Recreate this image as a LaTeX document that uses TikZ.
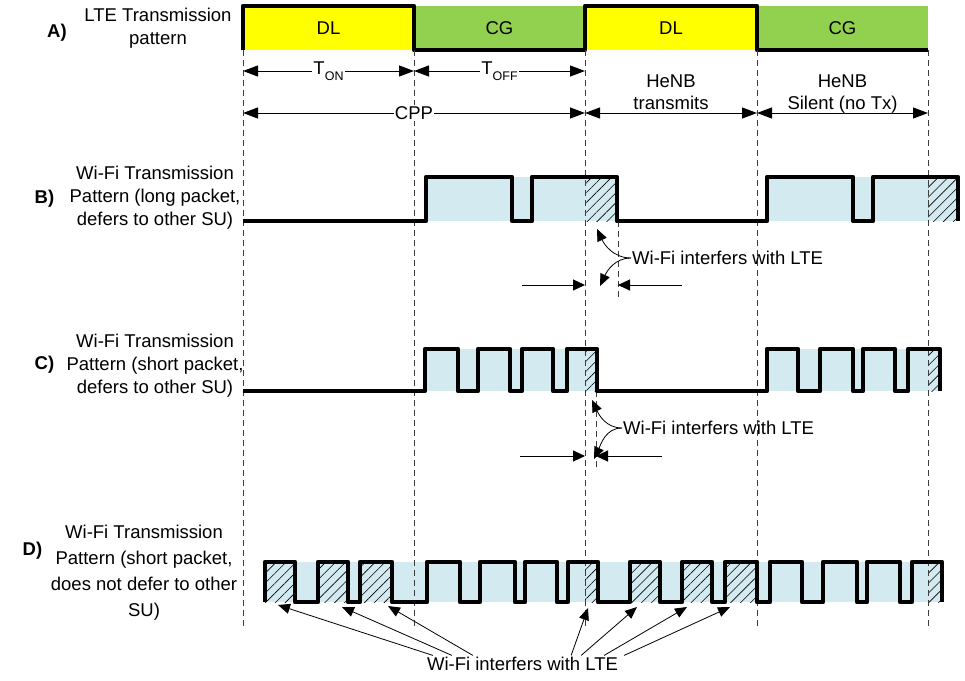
\documentclass[tikz,border=0pt]{standalone}
\usepackage{fontspec}
\setmainfont{Liberation Sans}
\usepackage{xcolor}
\definecolor{dlyellow}{RGB}{255,255,0}
\definecolor{cggreen}{RGB}{146,208,80}
\definecolor{wifiblue}{RGB}{210,234,240}
\definecolor{gridgray}{RGB}{60,60,60}
\usepackage{tikz}
\usetikzlibrary{arrows.meta,patterns.meta,positioning}
\tikzset{
	lbl/.style    = {inner sep=1pt,align=center,
		font=\fontsize{18.5}{23}\selectfont},
	tag/.style    = {inner sep=1pt,font=\fontsize{18.5}{23}\selectfont\bfseries},
	dlbox/.style  = {rectangle,fill=dlyellow,minimum width=171pt,
		minimum height=44pt,inner sep=0pt,outer sep=0pt,
		font=\fontsize{18.5}{23}\selectfont},
	cgbox/.style  = {dlbox,fill=cggreen},
	wave/.style   = {line width=4.6pt,line join=round},
	band/.style   = {fill=wifiblue},
	hatch/.style  = {pattern={Lines[angle=45,distance=7pt,line width=0.6pt]}},
	vline/.style  = {gridgray,line width=0.8pt,dash pattern=on 6pt off 4pt},
	dimarr/.style = {{Triangle[length=15pt,width=11pt]}-{Triangle[length=15pt,width=11pt]},line width=1pt},
	arr/.style    = {-{Triangle[length=12pt,width=10pt]},line width=0.8pt},
	barr/.style   = {-{Triangle[length=12pt,width=11pt]},line width=1pt},
}
\newcommand{\lowsub}[1]{\raisebox{-0.3em}{\fontsize{12.5}{12}\selectfont #1}}

\begin{document}
\begin{tikzpicture}[x=1pt,y=-1pt]
			\useasboundingbox (0,0) rectangle (965,680);
			
			%% A) LTE pattern
			\node (dl1) [dlbox] at (328.5,28) {DL};
			\node (cg1) [cgbox,right=0pt of dl1] {CG};
			\node (dl2) [dlbox,minimum width=172pt,right=0pt of cg1] {DL};
			\node (cg2) [cgbox,right=0pt of dl2] {CG};
			\draw[wave] (dl1.south west) -- (dl1.north west) -- (dl1.north east)
			-- (dl1.south east) -- (dl2.south west) -- (dl2.north west)
			-- (dl2.north east) -- (dl2.south east) -- (cg2.south east);
			
			\node (labA) [lbl] at (158,28) {LTE Transmission\\pattern};
			\node (tagA) [tag] at (57,33) {A)};
			
			%% Wi-Fi fills and hatching
			\fill[band] (426,177) rectangle (617,221);
			\fill[band] (767,177) rectangle (958,221);
			\fill[band] (425,349) rectangle (597,391);
			\fill[band] (767,349) rectangle (940,391);
			\fill[band] (265,562) rectangle (942,602);
			
			\fill[hatch] (585,177) rectangle (617,221);
			\fill[hatch] (928,177) rectangle (958,221);
			\fill[hatch] (585,349) rectangle (597,391);
			\fill[hatch] (928,349) rectangle (940,391);
			\fill[hatch] (265,562) rectangle (295,602);
			\fill[hatch] (318,562) rectangle (348,602);
			\fill[hatch] (360,562) rectangle (392,602);
			\fill[hatch] (585,562) rectangle (598,602);
			\fill[hatch] (630,562) rectangle (660,602);
			\fill[hatch] (682,562) rectangle (712,602);
			\fill[hatch] (725,562) rectangle (757,602);
			\fill[hatch] (928,562) rectangle (942,602);
			
			\draw[vline] (dl1.south west) -- ++(0,577);
			\draw[vline] (cg1.south west) -- ++(0,577);
			\draw[vline] (dl2.south west) -- ++(0,577);
			\draw[vline] (cg2.south west) -- ++(0,577);
			\draw[vline] (cg2.south east) -- ++(0,577);
			\draw[vline] (618,221) -- (618,298);
			\draw[vline] (596,391) -- (596,470);
			
			\draw[dimarr] ([yshift=-21pt]dl1.south west) -- ([yshift=-21pt]dl1.south east)
			node[midway,lbl,fill=white] (ton) {T\lowsub{ON}};
			\draw[dimarr] ([yshift=-21pt]cg1.south west) -- ([yshift=-21pt]cg1.south east)
			node[midway,lbl,fill=white] (toff) {T\lowsub{OFF}};
			\draw[dimarr] ([yshift=-63pt]dl1.south west) -- ([yshift=-63pt]cg1.south east)
			node[midway,lbl,fill=white] (cpp) {CPP};
			\draw[dimarr] ([yshift=-63pt]dl2.south west) -- ([yshift=-63pt]dl2.south east);
			\draw[dimarr] ([yshift=-63pt]cg2.south west) -- ([yshift=-63pt]cg2.south east);
			\node (tx) [lbl,below=24pt of dl2,font=\fontsize{18.5}{22}\selectfont] {HeNB\\transmits};
			\node (sil) [lbl,below=24pt of cg2,font=\fontsize{18.5}{22}\selectfont] {HeNB\\Silent (no Tx)};
			
			%% B) long packet
			\draw[wave] (243,221) -| (426,177) -| (512,221) -| (532,177) -| (617,221)
			-| (767,177) -| (853,221) -| (873,177) -| (958,221);
			\node (labB) [lbl] at (155,198) {Wi-Fi Transmission\\Pattern (long packet,\\defers to other SU)};
			\node (tagB) [tag] at (44.5,199) {B)};
			
			\node (intB) [lbl,anchor=west] at (631,258) {Wi-Fi interfers with LTE};
			\coordinate (bUp) at (597,229);
			\coordinate (bDn) at (600,286);
			\draw[arr] (intB.west) to[out=180,in=-65] (bUp);
			\draw[arr] (intB.west) to[out=180,in=65] (bDn);
			\coordinate (bLa) at (522,285);
			\coordinate (bLb) at (585,285);
			\coordinate (bRa) at (682,285);
			\coordinate (bRb) at (618,285);
			\draw[barr] (bLa) -- (bLb);
			\draw[barr] (bRa) -- (bRb);
			
			%% C) short packet
			\draw[wave] (243,391) -| (425,349) -| (458,391) -| (478,349) -| (510,391)
			-| (522,349) -| (553,391) -| (567,349) -| (597,391) -| (767,349)
			-| (798,391) -| (820,349) -| (853,391) -| (863,349) -| (895,391)
			-| (908,349) -| (940,391);
			\node (labC) [lbl] at (155,366) {Wi-Fi Transmission\\Pattern (short packet,\\defers to other SU)};
			\node (tagC) [tag] at (44.5,365) {C)};
			
			\node (intC) [lbl,anchor=west] at (622,428) {Wi-Fi interfers with LTE};
			\coordinate (cUp) at (592,400);
			\coordinate (cDn) at (594,459);
			\draw[arr] (intC.west) to[out=180,in=-65] (cUp);
			\draw[arr] (intC.west) to[out=180,in=65] (cDn);
			\coordinate (cLa) at (520,456);
			\coordinate (cLb) at (585,456);
			\coordinate (cRa) at (662,456);
			\coordinate (cRb) at (596,456);
			\draw[barr] (cLa) -- (cLb);
			\draw[barr] (cRa) -- (cRb);
			
			%% D) no deferral
			\draw[wave] (265,602) |- (295,562) |- (318,602) |- (348,562) |- (360,602)
			|- (392,562) |- (427,602) |- (460,562) |- (480,602) |- (515,562)
			|- (525,602) |- (557,562) |- (568,602) |- (598,562) |- (630,602)
			|- (660,562) |- (682,602) |- (712,562) |- (725,602) |- (757,562)
			|- (770,602) |- (802,562) |- (823,602) |- (857,562) |- (867,602)
			|- (900,562) |- (912,602) |- (942,562) -- (942,602);
			\node (labD) [lbl,font=\fontsize{18.5}{26}\selectfont] at (144,573)
			{Wi-Fi Transmission\\Pattern (short packet,\\does not defer to other\\SU)};
			\node (tagD) [tag] at (32.5,551) {D)};
			
			\node (intD) [lbl,anchor=base] at (522.5,670) {Wi-Fi interfers with LTE};
			\coordinate (dh1) at (278,605);
			\coordinate (dh2) at (342,607);
			\coordinate (dh3) at (388,606);
			\coordinate (dh4) at (588,608);
			\coordinate (dh5) at (637,607);
			\coordinate (dh6) at (687,607);
			\coordinate (dh7) at (730,607);
			\draw[arr] ([xshift=7pt]intD.north west) -- (dh1);
			\draw[arr] ([xshift=26pt]intD.north west) -- (dh2);
			\draw[arr] ([xshift=47pt]intD.north west) -- (dh3);
			\draw[arr] ([xshift=-48pt]intD.north east) -- (dh4);
			\draw[arr] ([xshift=-38pt]intD.north east) -- (dh5);
			\draw[arr] ([xshift=-15pt]intD.north east) -- (dh6);
			\draw[arr] ([xshift=5pt]intD.north east) -- (dh7);
		\end{tikzpicture}
\end{document}
